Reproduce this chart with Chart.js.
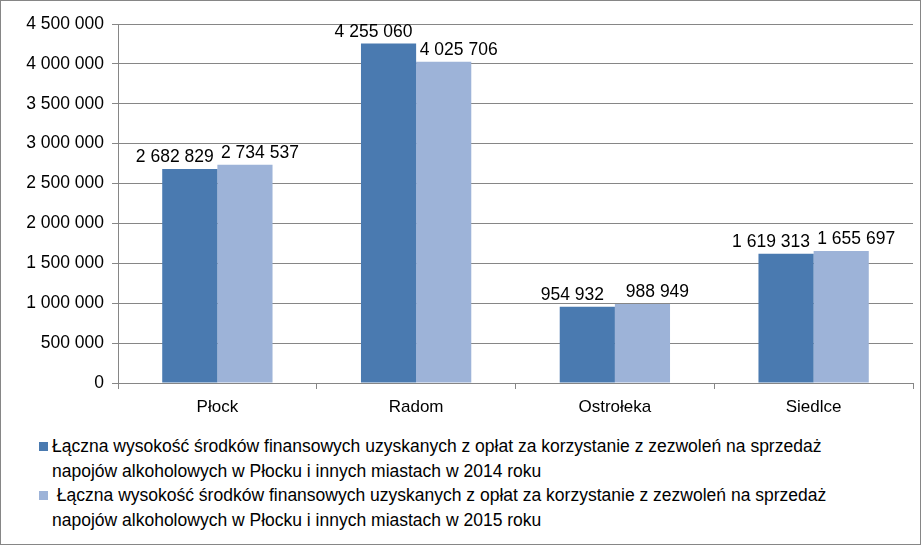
<!DOCTYPE html>
<html>
<head>
<meta charset="utf-8">
<script src="https://cdn.jsdelivr.net/npm/chart.js@4/dist/chart.umd.min.js"></script>
<style>
body{margin:0;background:#fff;}
#wrap{position:relative;width:919px;height:543px;border:1px solid #868686;font-family:"Liberation Sans",Arial,sans-serif;}
#c{position:absolute;left:0;top:0;}
.leg{position:absolute;left:51px;white-space:nowrap;font-size:17.5px;line-height:24.5px;color:#000;}
.sq{position:absolute;left:-13px;top:8px;width:9px;height:9px;}
</style>
</head>
<body>
<div id="wrap">
<canvas id="c" width="919" height="430"></canvas>
<div class="leg" style="top:433px"><span class="sq" style="background:#4a7ab0"></span>Łączna wysokość środków finansowych uzyskanych z opłat za korzystanie z zezwoleń na sprzedaż<br>napojów alkoholowych w Płocku i innych miastach w 2014 roku</div>
<div class="leg" style="top:482px"><span class="sq" style="background:#9db3d8"></span>&nbsp;Łączna wysokość środków finansowych uzyskanych z opłat za korzystanie z zezwoleń na sprzedaż<br>napojów alkoholowych w Płocku i innych miastach w 2015 roku</div>
</div>
<script>

// data
const cities = ["Płock","Radom","Ostrołeka","Siedlce"]
const values2014 = [2682829,4255060,954932,1619313]
const values2015 = [2734537,4025706,988949,1655697]

const fmt = v => String(v).replace(/\B(?=(\d{3})+(?!\d))/g," ")

// labels above bars
const barLabels = {
id:"barLabels",
afterDatasetsDraw(chart){
const ctx = chart.ctx
ctx.save()
ctx.font = "17.5px 'Liberation Sans', Arial, sans-serif"
ctx.fillStyle = "#000"
ctx.textAlign = "center"
ctx.textBaseline = "bottom"
chart.data.datasets.forEach((ds,i)=>{
chart.getDatasetMeta(i).data.forEach((bar,j)=>{
ctx.fillText(fmt(ds.data[j]), bar.x + (i===0?-15:15), bar.y-3)
})
})
ctx.restore()
}
}

new Chart(document.getElementById("c"),{
type:"bar",
data:{
labels:cities,
datasets:[
{data:values2014,backgroundColor:"#4a7ab0",categoryPercentage:0.555,barPercentage:1},
{data:values2015,backgroundColor:"#9db3d8",categoryPercentage:0.555,barPercentage:1}
]
},
options:{
responsive:false,
animation:false,
layout:{padding:{left:4,top:23,right:7,bottom:0}},
plugins:{legend:{display:false},tooltip:{enabled:false}},
scales:{
x:{
grid:{display:true,drawOnChartArea:false,color:"#868686",tickLength:6,offset:true},
border:{color:"#868686"},
ticks:{color:"#000",font:{size:17,family:"Liberation Sans"},padding:8},
afterFit:s=>{s.height=48}
},
y:{
min:0,max:4500000,
ticks:{stepSize:500000,color:"#000",font:{size:17.5,family:"Liberation Sans"},padding:8,callback:v=>fmt(v)},
grid:{color:"#868686",tickLength:6},
border:{color:"#868686"},
afterFit:s=>{s.width=113}
}
}
},
plugins:[barLabels]
})
</script>
</body>
</html>
